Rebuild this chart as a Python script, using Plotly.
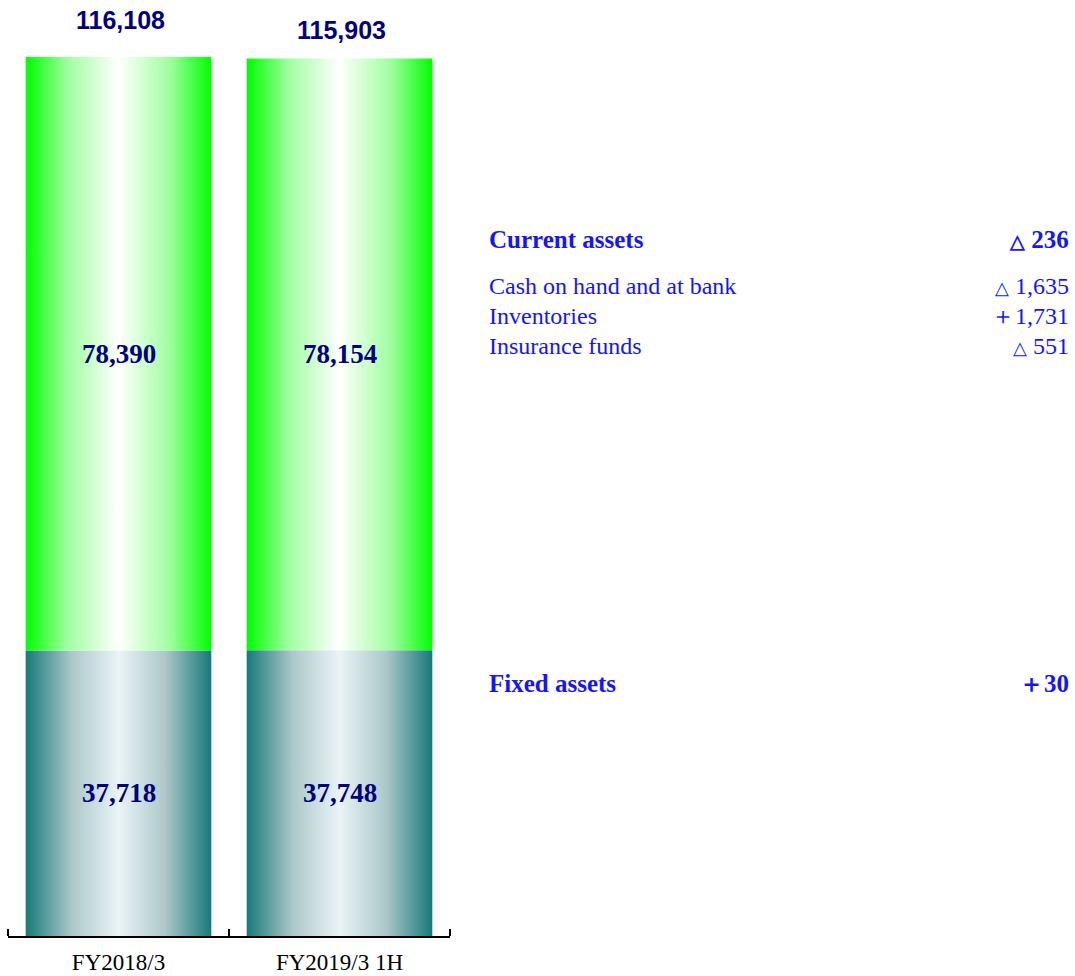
import plotly.graph_objects as go

# ---------------- data ----------------
categories = ["FY2018/3", "FY2019/3 1H"]
fixed_assets = [37718, 37748]
current_assets = [78390, 78154]
totals = [116108, 115903]

head_labels = ["Current assets", "Fixed assets"]
head_changes = ["△ 236", "＋30"]
detail_labels = ["Cash on hand and at bank", "Inventories", "Insurance funds"]
detail_changes = ["△ 1,635", "＋1,731", "△ 551"]

# ---------------- styles ----------------
BAR_W = 0.84
GREEN_SCALE = [[0, "#00ff00"], [0.22, "#9dff9d"], [0.5, "#ffffff"], [0.78, "#9dff9d"], [1, "#00ff00"]]
TEAL_SCALE = [[0, "#167a7a"], [0.25, "#adc8ca"], [0.5, "#eaf4f6"], [0.75, "#adc8ca"], [1, "#167a7a"]]
SERIF = "Liberation Serif, Times New Roman, serif"
SANS = "Liberation Sans, Arial, sans-serif"
NAVY = "#000080"
BLUE = "#1414ff"

fig = go.Figure()


def add_rect(xc, y0, y1, scale):
    xs = [xc - BAR_W / 2, xc + BAR_W / 2, xc + BAR_W / 2, xc - BAR_W / 2, xc - BAR_W / 2]
    ys = [y0, y0, y1, y1, y0]
    fig.add_trace(go.Scatter(
        x=xs, y=ys, mode="lines", fill="toself", line=dict(width=0),
        fillgradient=dict(type="horizontal", colorscale=scale),
        hoverinfo="skip", showlegend=False,
    ))


for i, cat in enumerate(categories):
    top_fixed = fixed_assets[i]
    top_all = fixed_assets[i] + current_assets[i]
    add_rect(i, 0, top_fixed, TEAL_SCALE)
    add_rect(i, top_fixed, top_all, GREEN_SCALE)
    fig.add_annotation(x=i, y=top_fixed / 2, text=f"<b>{fixed_assets[i]:,}</b>", showarrow=False,
                       yanchor="middle", font=dict(family=SERIF, size=27, color=NAVY))
    fig.add_annotation(x=i, y=top_fixed + current_assets[i] / 2, text=f"<b>{current_assets[i]:,}</b>",
                       showarrow=False, yanchor="middle", font=dict(family=SERIF, size=27, color=NAVY))

total_shift = [21, 13]
for i, t in enumerate(totals):
    fig.add_annotation(x=i + 0.01, y=t, text=f"<b>{t:,}</b>", showarrow=False, yanchor="bottom",
                       yshift=total_shift[i], font=dict(family=SANS, size=25, color=NAVY))


def fmt_change(s, size):
    return s.replace("△", f"<span style='font-size:{size}px'>△</span>")


# right-side commentary
H = 936
LX = 487 / 1075
RX = 1071 / 1075
head_y = [240, 683]
for lab, chg, yp in zip(head_labels, head_changes, head_y):
    fig.add_annotation(xref="paper", yref="paper", x=LX, y=(H - yp) / H, text=f"<b>{lab}</b>",
                       xanchor="left", yanchor="middle", showarrow=False,
                       font=dict(family=SERIF, size=25, color=BLUE))
    fig.add_annotation(xref="paper", yref="paper", x=RX, y=(H - yp) / H, text=f"<b>{fmt_change(chg, 19)}</b>",
                       xanchor="right", yanchor="middle", showarrow=False,
                       font=dict(family=SERIF, size=25, color=BLUE))
detail_y = [286, 316, 346]
for lab, chg, yp in zip(detail_labels, detail_changes, detail_y):
    fig.add_annotation(xref="paper", yref="paper", x=LX, y=(H - yp) / H, text=lab,
                       xanchor="left", yanchor="middle", showarrow=False,
                       font=dict(family=SERIF, size=24, color=BLUE))
    fig.add_annotation(xref="paper", yref="paper", x=RX, y=(H - yp) / H, text=fmt_change(chg, 18),
                       xanchor="right", yanchor="middle", showarrow=False,
                       font=dict(family=SERIF, size=24, color=BLUE))

ymax = totals[0] * 936 / 879
fig.update_layout(
    width=1075, height=976,
    margin=dict(l=0, r=0, t=0, b=40, autoexpand=False),
    plot_bgcolor="white", paper_bgcolor="white",
    xaxis=dict(
        domain=[8 / 1075, 450 / 1075], range=[-0.5, len(categories) - 0.5],
        tickvals=list(range(len(categories))), ticktext=categories,
        ticks="", showgrid=False, zeroline=False, automargin=False,
        showline=True, linecolor="black", linewidth=2,
        tickfont=dict(family=SERIF, size=23, color="black"),
        ticklabelstandoff=4,
        minor=dict(tickvals=[k - 0.5 for k in range(len(categories) + 1)], ticks="inside",
                   ticklen=7, tickwidth=1.5, tickcolor="black", showgrid=False),
    ),
    yaxis=dict(range=[0, ymax], visible=False, showgrid=False, zeroline=False, automargin=False),
)

fig.write_html("out.html")
